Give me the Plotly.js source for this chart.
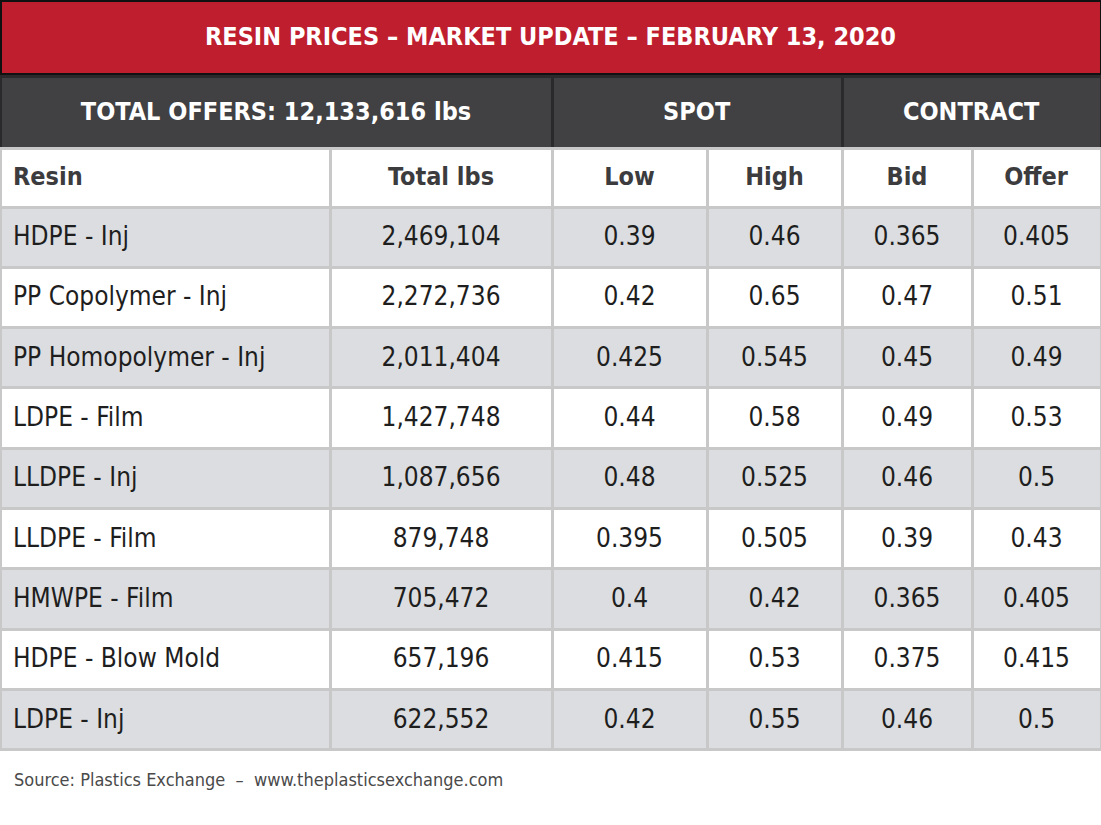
<!DOCTYPE html>
<html>
<head>
<meta charset="utf-8">
<script src="https://cdn.plot.ly/plotly-3.0.1.min.js"></script>
<style>
  body { margin: 0; background: #fff; }
  #chart { width: 1101px; height: 825px; }
</style>
</head>
<body>
<div id="chart"></div>
<script>
// table data
const title = 'RESIN PRICES – MARKET UPDATE – FEBRUARY 13, 2020';
const groupHeaders = ['TOTAL OFFERS: 12,133,616 lbs', 'SPOT', 'CONTRACT'];
const columnHeaders = ['Resin', 'Total lbs', 'Low', 'High', 'Bid', 'Offer'];
const resins = ['HDPE - Inj', 'PP Copolymer - Inj', 'PP Homopolymer - Inj', 'LDPE - Film',
  'LLDPE - Inj', 'LLDPE - Film', 'HMWPE - Film', 'HDPE - Blow Mold', 'LDPE - Inj'];
const totalLbs = [2469104, 2272736, 2011404, 1427748, 1087656, 879748, 705472, 657196, 622552];
const spotLow = [0.39, 0.42, 0.425, 0.44, 0.48, 0.395, 0.4, 0.415, 0.42];
const spotHigh = [0.46, 0.65, 0.545, 0.58, 0.525, 0.505, 0.42, 0.53, 0.55];
const contractBid = [0.365, 0.47, 0.45, 0.49, 0.46, 0.39, 0.365, 0.375, 0.46];
const contractOffer = [0.405, 0.51, 0.49, 0.53, 0.5, 0.43, 0.405, 0.415, 0.5];
const source = 'Source: Plastics Exchange  –  www.theplasticsexchange.com';

const W = 1101, H = 825;
const FONT = '"DejaVu Sans Condensed", "DejaVu Sans", sans-serif';

// row stripes: gray, white, gray...
const stripes = resins.map((r, i) => i % 2 === 0 ? '#dcdde0' : '#ffffff');

function py(px) { return 1 - px / H; }

const titleTable = {
  type: 'table',
  domain: { x: [0, 1], y: [py(78), 1] },
  columnwidth: [1],
  header: {
    values: [['<b>' + title + '</b>']],
    height: 74,
    fill: { color: '#be1e2d' },
    line: { color: '#111', width: 3 },
    align: 'center',
    font: { family: FONT, size: 25, color: '#ffffff' }
  },
  cells: { values: [[]] }
};

const groupTable = {
  type: 'table',
  domain: { x: [0, 1], y: [py(150), py(76)] },
  columnwidth: [552, 290, 259],
  header: {
    values: groupHeaders.map(g => ['<b>' + g + '</b>']),
    height: 72,
    fill: { color: '#414143' },
    line: { color: '#2a2a2c', width: 3 },
    align: 'center',
    font: { family: FONT, size: 25, color: '#ffffff' }
  },
  cells: { values: [[]] }
};

const mainTable = {
  type: 'table',
  domain: { x: [0, 1], y: [0.02, py(148)] },
  columnwidth: [330, 222, 155, 135, 130, 129],
  header: {
    values: columnHeaders.map(c => ['<b>' + c + '</b>']),
    height: 59,
    fill: { color: '#ffffff' },
    line: { color: '#c8c8c8', width: 3 },
    align: ['left', 'center', 'center', 'center', 'center', 'center'],
    font: { family: FONT, size: 25, color: '#3c3c3e' }
  },
  cells: {
    values: [resins, totalLbs, spotLow, spotHigh, contractBid, contractOffer],
    format: ['', ',', '', '', '', ''],
    height: 60.3,
    fill: { color: columnHeaders.map(() => stripes) },
    line: { color: '#c8c8c8', width: 3 },
    align: ['left', 'center', 'center', 'center', 'center', 'center'],
    font: { family: FONT, size: 26, color: '#1e1e1e' }
  }
};

const layout = {
  width: W,
  height: H,
  margin: { l: 0, r: 0, t: 0, b: 0 },
  paper_bgcolor: '#ffffff',
  showlegend: false,
  annotations: [{
    text: source,
    xref: 'paper', yref: 'paper',
    x: 12 / W, y: py(779),
    xanchor: 'left', yanchor: 'middle',
    showarrow: false,
    font: { family: FONT, size: 18, color: '#4a4a4a' }
  }]
};

// plotly tables put text at the top of the cell, centre it vertically
// (and give the left-aligned Resin column a bit more room from the border)
const leftColumn = new Set([columnHeaders[0]].concat(resins));

function centerCellText(gd) {
  gd.querySelectorAll('.column-cell').forEach(cell => {
    const rect = cell.querySelector('.cell-rect');
    const holder = cell.querySelector('.cell-text-holder');
    const text = holder && holder.querySelector('text');
    if (!rect || !text || !text.textContent) return;
    const h = parseFloat(rect.getAttribute('height'));
    const bb = text.getBBox();
    const m = holder.transform.baseVal.consolidate();
    let tx = m ? m.matrix.e : 0;
    if (leftColumn.has(text.textContent.trim())) tx += 5;
    const ty = h / 2 - (bb.y + bb.height / 2) - 1;
    holder.setAttribute('transform', 'translate(' + tx + ',' + ty + ')');
  });
}

Plotly.newPlot('chart', [titleTable, groupTable, mainTable], layout, { displayModeBar: false, staticPlot: true })
  .then(gd => centerCellText(gd));
</script>
</body>
</html>
